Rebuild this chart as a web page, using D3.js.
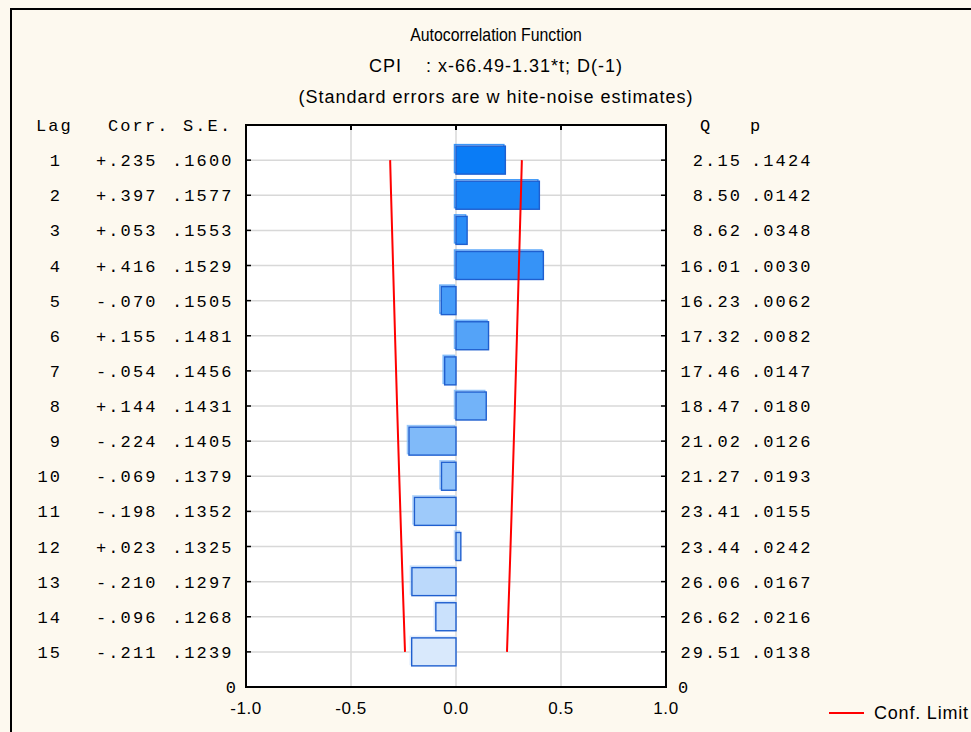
<!DOCTYPE html>
<html><head><meta charset="utf-8">
<script src="https://cdn.jsdelivr.net/npm/d3@7"></script>
<style>
html,body{margin:0;padding:0;background:#fdf9ef;}
svg{display:block;}
</style></head><body>
<svg id="chart" width="971" height="732"></svg>
<script>
const lags = [1,2,3,4,5,6,7,8,9,10,11,12,13,14,15];
const corrLabels = ["+.235","+.397","+.053","+.416","-.070","+.155","-.054","+.144","-.224","-.069","-.198","+.023","-.210","-.096","-.211"];
const corr = [0.235,0.397,0.053,0.416,-0.070,0.155,-0.054,0.144,-0.224,-0.069,-0.198,0.023,-0.210,-0.096,-0.211];
const seLabels = [".1600",".1577",".1553",".1529",".1505",".1481",".1456",".1431",".1405",".1379",".1352",".1325",".1297",".1268",".1239"];
const se = [0.1600,0.1577,0.1553,0.1529,0.1505,0.1481,0.1456,0.1431,0.1405,0.1379,0.1352,0.1325,0.1297,0.1268,0.1239];
const qLabels = ["2.15","8.50","8.62","16.01","16.23","17.32","17.46","18.47","21.02","21.27","23.41","23.44","26.06","26.62","29.51"];
const pLabels = [".1424",".0142",".0348",".0030",".0062",".0082",".0147",".0180",".0126",".0193",".0155",".0242",".0167",".0216",".0138"];
const xTicks = [-1.0,-0.5,0.0,0.5,1.0];
const titles = ["Autocorrelation Function","CPI    : x-66.49-1.31*t; D(-1)","(Standard errors are w hite-noise estimates)"];

const svg = d3.select("#chart");
const L = 246, R = 666, T = 125, B = 687;
const x = d3.scaleLinear().domain([-1,1]).range([L,R]);
// lag 1 at the top, the "0" row at the bottom edge
const y = d3.scaleLinear().domain([0,16]).range([T,B]);
const color = d3.scaleLinear().domain([1,15]).range(["#0a7cf6","#d9e9fc"]).interpolate(d3.interpolateRgb);

// background and frame
svg.append("rect").attr("x",0).attr("y",0).attr("width",971).attr("height",732).attr("fill","#fdf9ef");
svg.append("path").attr("d",`M11,732 V9 H971`).attr("fill","none").attr("stroke","#000").attr("stroke-width",2);

// titles
const sans = "'Liberation Sans', Arial, sans-serif";
titles.forEach((t,i)=>{
  const g = svg.append("g").attr("transform",`translate(496,${41+i*31}) scale(${i===0?0.88:1},1)`);
  g.append("text").attr("x",0).attr("y",0).attr("text-anchor","middle")
    .attr("font-family",sans).attr("font-size",18).attr("letter-spacing",i===0?0:1).attr("fill","#000")
    .style("white-space","pre").text(t);
});

// plot area
svg.append("rect").attr("x",L).attr("y",T).attr("width",R-L).attr("height",B-T).attr("fill","#fff");

// grid
svg.append("g").selectAll("line").data(lags).join("line")
  .attr("x1",L).attr("x2",R).attr("y1",d=>y(d)).attr("y2",d=>y(d))
  .attr("stroke","#d8d8d8").attr("stroke-width",1.5);
svg.append("g").selectAll("line").data(xTicks.slice(1,-1)).join("line")
  .attr("x1",d=>x(d)).attr("x2",d=>x(d)).attr("y1",T).attr("y2",B)
  .attr("stroke","#d8d8d8").attr("stroke-width",1.5);

// bars (with a faint offset outline, like the original)
const barH = 28;
const bars = svg.append("g");
bars.selectAll("rect.sh").data(lags).join("rect").attr("class","sh")
  .attr("x",(d,i)=>Math.min(x(0),x(corr[i]))-1.5)
  .attr("width",(d,i)=>Math.abs(x(corr[i])-x(0)))
  .attr("y",d=>y(d)-barH/2-1.5).attr("height",barH)
  .attr("fill","none").attr("stroke",d=>color(d)).attr("stroke-width",1.5).attr("opacity",0.8);
bars.selectAll("rect.b").data(lags).join("rect").attr("class","b")
  .attr("x",(d,i)=>Math.min(x(0),x(corr[i])))
  .attr("width",(d,i)=>Math.abs(x(corr[i])-x(0)))
  .attr("y",d=>y(d)-barH/2).attr("height",barH)
  .attr("fill",d=>color(d)).attr("stroke","#1f5fcf").attr("stroke-width",1.4);

// conf limits
const upper = d3.line().x((d,i)=>x(1.96*se[i])).y(d=>y(d));
const lower = d3.line().x((d,i)=>x(-1.96*se[i])).y(d=>y(d));
svg.append("path").datum(lags).attr("d",upper).attr("fill","none").attr("stroke","#ff0000").attr("stroke-width",2);
svg.append("path").datum(lags).attr("d",lower).attr("fill","none").attr("stroke","#ff0000").attr("stroke-width",2);

// axes
const ax = svg.append("g");
ax.append("rect").attr("x",L).attr("y",T).attr("width",R-L).attr("height",B-T).attr("fill","none").attr("stroke","#000").attr("stroke-width",2);
ax.selectAll(".tt").data(xTicks.slice(1,-1)).join("line").attr("class","tt")
  .attr("x1",d=>x(d)).attr("x2",d=>x(d)).attr("y1",T).attr("y2",T+5).attr("stroke","#000").attr("stroke-width",2);
ax.selectAll(".lt").data(lags).join("line").attr("class","lt")
  .attr("x1",L).attr("x2",L+5).attr("y1",d=>y(d)).attr("y2",d=>y(d)).attr("stroke","#000").attr("stroke-width",1.5);
ax.selectAll(".rt").data(lags).join("line").attr("class","rt")
  .attr("x1",R-5).attr("x2",R).attr("y1",d=>y(d)).attr("y2",d=>y(d)).attr("stroke","#000").attr("stroke-width",1.5);
ax.selectAll(".xl").data(xTicks).join("text").attr("class","xl")
  .attr("x",d=>x(d)).attr("y",B+27).attr("text-anchor","middle")
  .attr("font-family",sans).attr("font-size",17).attr("letter-spacing",0.6)
  .text(d=>d3.format(".1f")(d).replace("\u2212","-"));

// table
const mono = "'Liberation Mono', 'Courier New', monospace";
const tt = (xx,yy,txt,anchor)=>svg.append("text").attr("x",xx).attr("y",yy).attr("text-anchor",anchor||"start")
  .attr("font-family",mono).attr("font-size",17).attr("letter-spacing",2.1).attr("fill","#000").style("white-space","pre").text(txt);
tt(36,y(0)+6,"Lag");
tt(108,y(0)+6,"Corr.");
tt(183,y(0)+6,"S.E.");
tt(700,y(0)+6,"Q");
tt(750,y(0)+6,"p");
lags.forEach((d,i)=>{
  const yy = y(d)+6;
  tt(62,yy,String(d),"end");
  tt(96,yy,corrLabels[i]);
  tt(172,yy,seLabels[i]);
  tt(742,yy,qLabels[i],"end");
  tt(751,yy,pLabels[i]);
});
tt(238,y(16)+6,"0","end");
tt(678,y(16)+6,"0");

// legend
svg.append("line").attr("x1",829).attr("x2",864).attr("y1",713).attr("y2",713).attr("stroke","#ff0000").attr("stroke-width",2);
svg.append("text").attr("x",874).attr("y",719).attr("font-family",sans).attr("font-size",18).attr("letter-spacing",0.8).text("Conf. Limit");
</script>
</body></html>
